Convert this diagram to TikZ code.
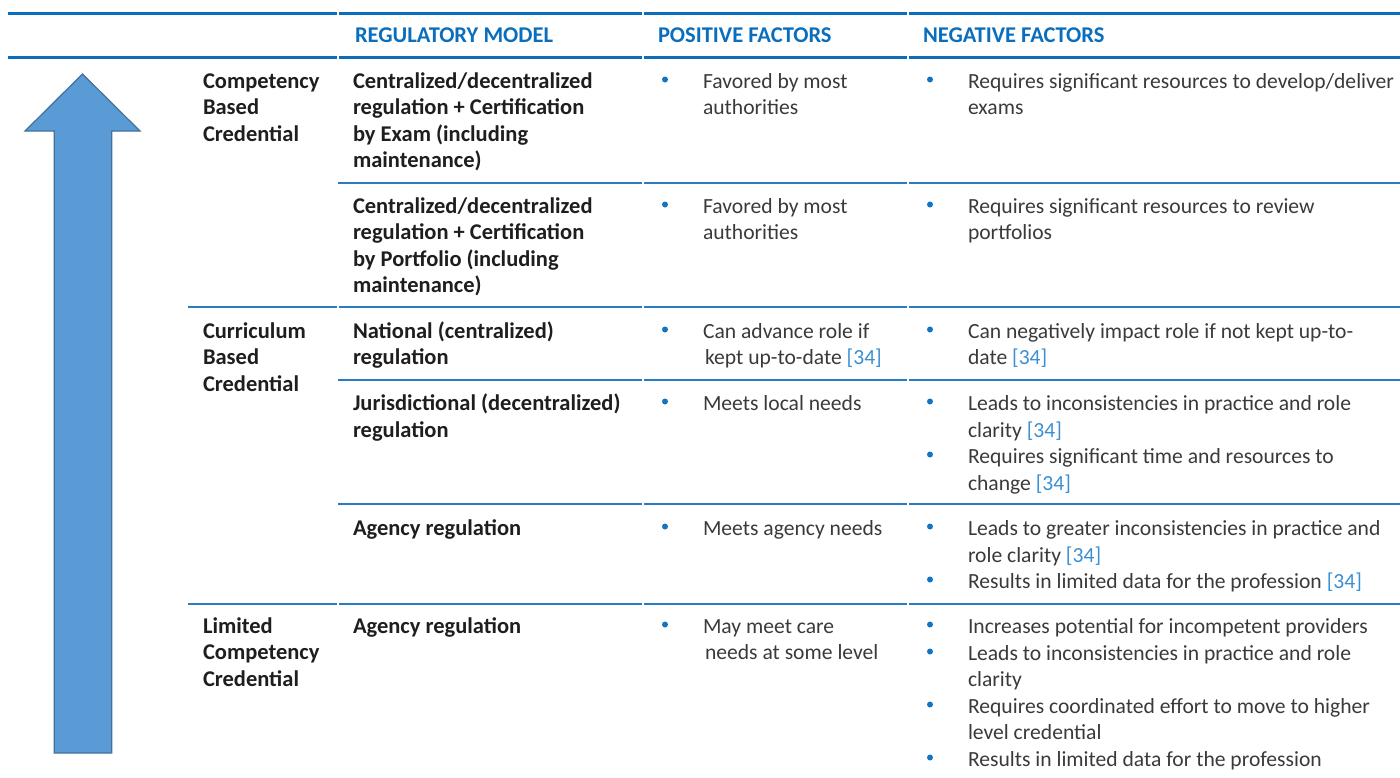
\documentclass[tikz,border=0pt]{standalone}
\usepackage{fontspec}
\setmainfont{Carlito}
\definecolor{hdr}{HTML}{0A6EBD}
\definecolor{rulec}{HTML}{2A7CC2}
\definecolor{bulc}{HTML}{1574C0}
\definecolor{citec}{HTML}{3A8FD3}
\definecolor{bodyc}{HTML}{3A3A3A}
\definecolor{boldc}{HTML}{1E1E1E}
\definecolor{arrfill}{HTML}{5B9BD5}
\definecolor{arrline}{HTML}{41719C}
\newcommand{\rf}{{\color{citec}[34]}}
\newcommand{\T}[5]{\node[#1] (#2) at (#3,#4) {#5};}
\newcommand{\B}[3]{\node[bulletdot] (#1) at (#2,#3-8.5) {};}
\tikzset{
  base/.style={anchor=base west, inner sep=0pt, outer sep=0pt},
  body/.style={base, font=\fontsize{21.6}{26}\selectfont, text=bodyc},
  strong/.style={base, font=\fontsize{22.5}{26}\selectfont\bfseries, text=boldc},
  head/.style={base, font=\fontsize{22.5}{26}\selectfont\bfseries, text=hdr},
  bulletdot/.style={circle, fill=bulc, inner sep=0pt, minimum size=6pt},
  toprule/.style={draw=hdr, line width=3pt},
  rowrule/.style={draw=rulec, line width=2.2pt},
}
\begin{document}
\begin{tikzpicture}[x=1pt,y=-1pt]
\useasboundingbox (0,0) rectangle (1400,777);
% arrow
\draw[fill=arrfill, draw=arrline, line width=1.2pt, line join=miter]
  (82.5,74) -- (140,131) -- (111.7,131) -- (111.7,753) -- (54.3,753) -- (54.3,131) -- (25,131) -- cycle;
% top and header rules
\foreach \y in {13,57} {
  \draw[toprule] (8,\y) -- (337,\y);
  \draw[toprule] (339,\y) -- (642,\y);
  \draw[toprule] (644,\y) -- (907,\y);
  \draw[toprule] (909,\y) -- (1400,\y);
}
% row rules starting at model column
\foreach \y in {183,380,504} {
  \draw[rowrule] (338,\y) -- (642,\y);
  \draw[rowrule] (644,\y) -- (907,\y);
  \draw[rowrule] (909,\y) -- (1400,\y);
}
% section rules starting at category column
\foreach \y in {307,604} {
  \draw[rowrule] (188,\y) -- (337,\y);
  \draw[rowrule] (339,\y) -- (642,\y);
  \draw[rowrule] (644,\y) -- (907,\y);
  \draw[rowrule] (909,\y) -- (1400,\y);
}
% header
\T{head}{h1}{355}{42}{REGULATORY MODEL}
\T{head}{h2}{658}{42}{POSITIVE FACTORS}
\T{head}{h3}{923}{42}{NEGATIVE FACTORS}
% categories
\T{strong}{c1a}{203}{88}{Competency}
\T{strong}{c1b}{203}{114.5}{Based}
\T{strong}{c1c}{203}{141}{Credential}
\T{strong}{c2a}{203}{338}{Curriculum}
\T{strong}{c2b}{203}{364.5}{Based}
\T{strong}{c2c}{203}{391}{Credential}
\T{strong}{c3a}{203}{633}{Limited}
\T{strong}{c3b}{203}{659.5}{Competency}
\T{strong}{c3c}{203}{686}{Credential}
% row 1
\T{strong}{m1a}{353}{88}{Centralized/decentralized}
\T{strong}{m1b}{353}{114.5}{regulation + Certification}
\T{strong}{m1c}{353}{141}{by Exam (including}
\T{strong}{m1d}{353}{167.5}{maintenance)}
\B{p1b}{665}{88}
\T{body}{p1a}{703}{88}{Favored by most}
\T{body}{p1c}{703}{114.5}{authorities}
\B{n1b}{930}{88}
\T{body}{n1a}{968}{88}{Requires significant resources to develop/deliver}
\T{body}{n1c}{968}{114.5}{exams}
% row 2
\T{strong}{m2a}{353}{213}{Centralized/decentralized}
\T{strong}{m2b}{353}{239.5}{regulation + Certification}
\T{strong}{m2c}{353}{266}{by Portfolio (including}
\T{strong}{m2d}{353}{292.5}{maintenance)}
\B{p2b}{665}{213}
\T{body}{p2a}{703}{213}{Favored by most}
\T{body}{p2c}{703}{239.5}{authorities}
\B{n2b}{930}{213}
\T{body}{n2a}{968}{213}{Requires significant resources to review}
\T{body}{n2c}{968}{239.5}{portfolios}
% row 3
\T{strong}{m3a}{353}{338}{National (centralized)}
\T{strong}{m3b}{353}{364.5}{regulation}
\B{p3b}{665}{338}
\T{body}{p3a}{703}{338}{Can advance role if}
\T{body}{p3c}{705}{364.5}{kept up-to-date \rf}
\B{n3b}{930}{338}
\T{body}{n3a}{968}{338}{Can negatively impact role if not kept up-to-}
\T{body}{n3c}{968}{364.5}{date \rf}
% row 4
\T{strong}{m4a}{353}{410}{Jurisdictional (decentralized)}
\T{strong}{m4b}{353}{437}{regulation}
\B{p4b}{665}{410}
\T{body}{p4a}{703}{410}{Meets local needs}
\B{n4b}{930}{410}
\T{body}{n4a}{968}{410}{Leads to inconsistencies in practice and role}
\T{body}{n4c}{968}{437}{clarity \rf}
\B{n4d}{930}{463}
\T{body}{n4e}{968}{463}{Requires significant time and resources to}
\T{body}{n4f}{968}{490}{change \rf}
% row 5
\T{strong}{m5a}{353}{535}{Agency regulation}
\B{p5b}{665}{535}
\T{body}{p5a}{703}{535}{Meets agency needs}
\B{n5b}{930}{535}
\T{body}{n5a}{968}{535}{Leads to greater inconsistencies in practice and}
\T{body}{n5c}{968}{562}{role clarity \rf}
\B{n5d}{930}{588}
\T{body}{n5e}{968}{588}{Results in limited data for the profession \rf}
% row 6
\T{strong}{m6a}{353}{633}{Agency regulation}
\B{p6b}{665}{633}
\T{body}{p6a}{703}{633}{May meet care}
\T{body}{p6c}{705}{659.5}{needs at some level}
\B{n6b}{930}{633}
\T{body}{n6a}{968}{633}{Increases potential for incompetent providers}
\B{n6d}{930}{660}
\T{body}{n6c}{968}{660}{Leads to inconsistencies in practice and role}
\T{body}{n6e}{968}{686}{clarity}
\B{n6f}{930}{713}
\T{body}{n6g}{968}{713}{Requires coordinated effort to move to higher}
\T{body}{n6h}{968}{739}{level credential}
\B{n6i}{930}{766}
\T{body}{n6j}{968}{766}{Results in limited data for the profession}
\end{tikzpicture}
\end{document}
